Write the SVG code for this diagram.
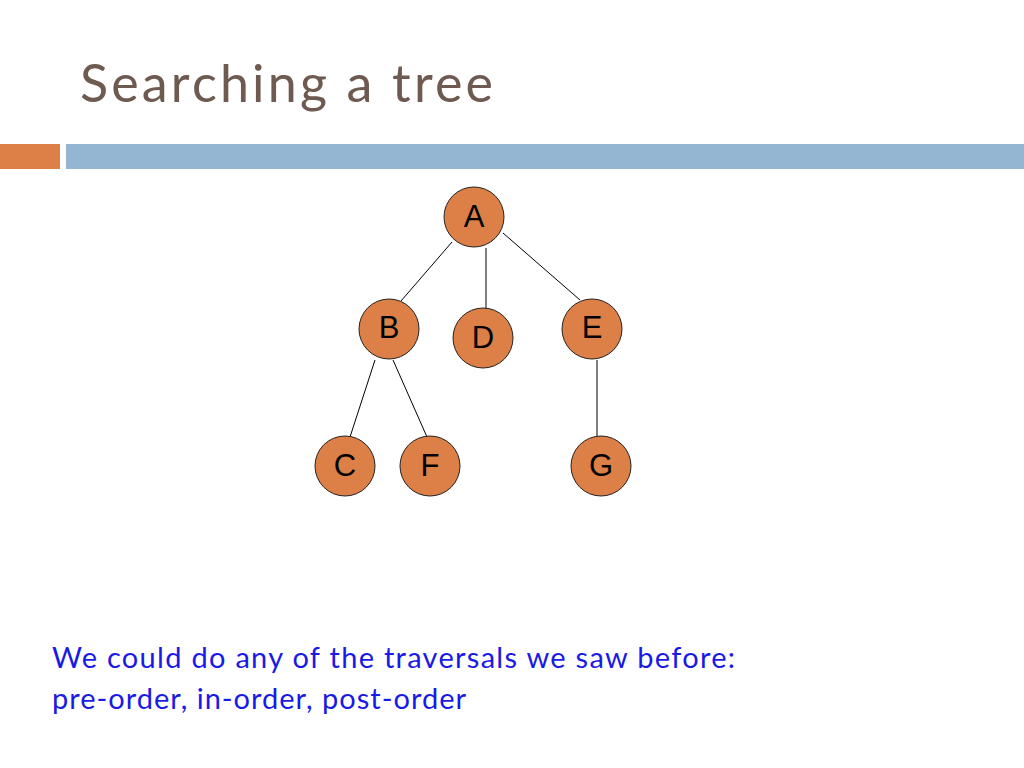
<svg xmlns="http://www.w3.org/2000/svg" width="1024" height="768" viewBox="0 0 1024 768">
<style>
.n{fill:#dd8047;stroke:#222;stroke-width:1}
.l{font-family:"Liberation Sans",Arial,sans-serif;font-size:31px;fill:#000;text-anchor:middle}
.e{stroke:#000;stroke-width:1;fill:none}
.t{font-family:Lato,"Open Sans",sans-serif;font-size:29px;fill:#1a1ae6}
</style>
<rect width="1024" height="768" fill="#fff"/>
<text x="80" y="102" font-family="Lato,'Open Sans',sans-serif" font-size="52" fill="#6e5a50" textLength="413" lengthAdjust="spacing">Searching a tree</text>
<rect x="0" y="144" width="60" height="25" fill="#dd8047"/>
<rect x="66" y="144" width="958" height="25" fill="#94b6d2"/>
<g id="edges">
<line class="e" x1="452" y1="242" x2="401" y2="301"/>
<line class="e" x1="486" y1="248" x2="486" y2="308"/>
<line class="e" x1="503" y1="233" x2="580" y2="300"/>
<line class="e" x1="375" y1="360" x2="350" y2="437"/>
<line class="e" x1="393" y1="360" x2="427" y2="437"/>
<line class="e" x1="597" y1="360" x2="597" y2="437"/>
</g>
<g id="A"><circle class="n" cx="474" cy="217" r="30"/><text class="l" x="474" y="227">A</text></g>
<g id="B"><circle class="n" cx="389" cy="329" r="30"/><text class="l" x="389" y="338">B</text></g>
<g id="D"><circle class="n" cx="483" cy="338" r="30"/><text class="l" x="483" y="348">D</text></g>
<g id="E"><circle class="n" cx="592" cy="329" r="30"/><text class="l" x="592" y="338">E</text></g>
<g id="C"><circle class="n" cx="345" cy="466" r="30"/><text class="l" x="345" y="476">C</text></g>
<g id="F"><circle class="n" cx="430" cy="466" r="30"/><text class="l" x="430" y="476">F</text></g>
<g id="G"><circle class="n" cx="601" cy="466" r="30"/><text class="l" x="601" y="476">G</text></g>
<text class="t" x="52" y="668" textLength="683" lengthAdjust="spacing">We could do any of the traversals we saw before:</text>
<text class="t" x="52" y="709" textLength="414" lengthAdjust="spacing">pre-order, in-order, post-order</text>
</svg>
